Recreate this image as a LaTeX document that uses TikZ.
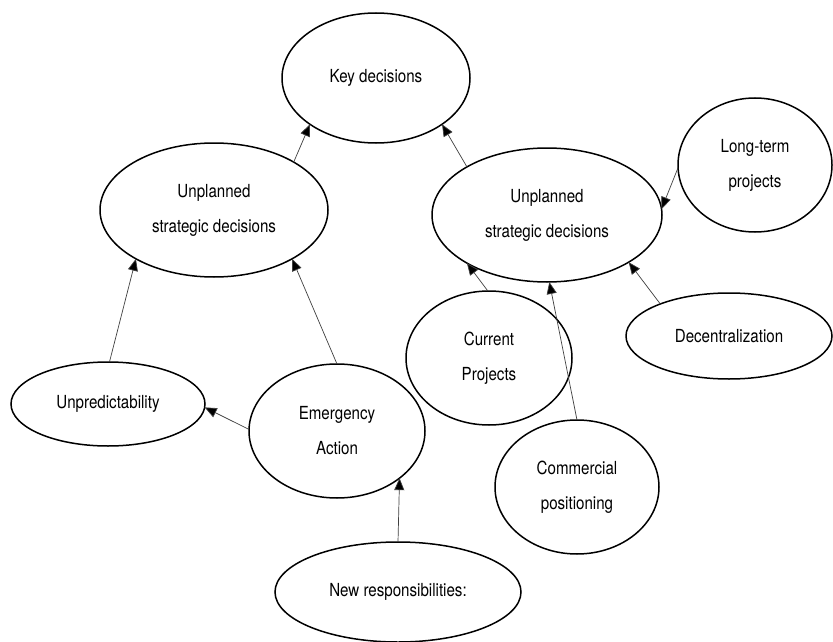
\documentclass[tikz,border=0pt]{standalone}
\usepackage{fontspec}
\setmainfont[FakeStretch=0.84]{TeX Gyre Heros}
\usetikzlibrary{shapes.geometric,arrows.meta}
\tikzset{
  bubble/.style={ellipse, draw=black, line width=1.5pt, inner sep=0pt, outer sep=0pt,
    align=center, font=\fontsize{18pt}{35pt}\selectfont},
  link/.style={draw=black!75, line width=0.7pt, -{Triangle[length=12pt,width=10pt,fill=black]}}
}
\begin{document}
\begin{tikzpicture}[x=1pt,y=-1pt]
\useasboundingbox (0,0) rectangle (833,642);
\fill[white] (0,0) rectangle (833,642);
\node[bubble, minimum width=188pt, minimum height=130pt] (key) at (376,78) {Key decisions};
\node[bubble, minimum width=228pt, minimum height=134pt] (lu) at (214,210) {Unplanned\\strategic decisions};
\node[bubble, minimum width=230pt, minimum height=134pt] (ru) at (547,215) {Unplanned\\strategic decisions};
\node[bubble, minimum width=154pt, minimum height=134pt] (lt) at (755,165) {Long-term\\projects};
\node[bubble, minimum width=206pt, minimum height=86pt] (dec) at (729,336) {Decentralization};
\node[bubble, minimum width=166pt, minimum height=134pt] (cur) at (489,358) {Current\\Projects};
\node[bubble, minimum width=164pt, minimum height=134pt] (com) at (577,487) {Commercial\\positioning};
\node[bubble, minimum width=194pt, minimum height=84pt] (unp) at (108,404) {Unpredictability};
\node[bubble, minimum width=176pt, minimum height=134pt] (em) at (337,431) {Emergency\\Action};
\node[bubble, minimum width=246pt, minimum height=100pt] (nr) at (398,592) {New responsibilities:};

\draw[link] (lu.31) -- (key.215);
\draw[link] (ru.149) -- (key.325);
\draw[link] (lt.182) -- (ru.3.4);
\draw[link] (cur.91) -- (ru.211);
\draw[link] (com.90) -- (ru.272.5);
\draw[link] (dec.155) -- (ru.330.5);
\draw[link] (unp.88.6) -- (lu.212.4);
\draw[link] (em.90) -- (lu.328);
\draw[link] (em.179.3) -- (unp.358.3);
\draw[link] (nr.90) -- (em.323.3);
\end{tikzpicture}
\end{document}
